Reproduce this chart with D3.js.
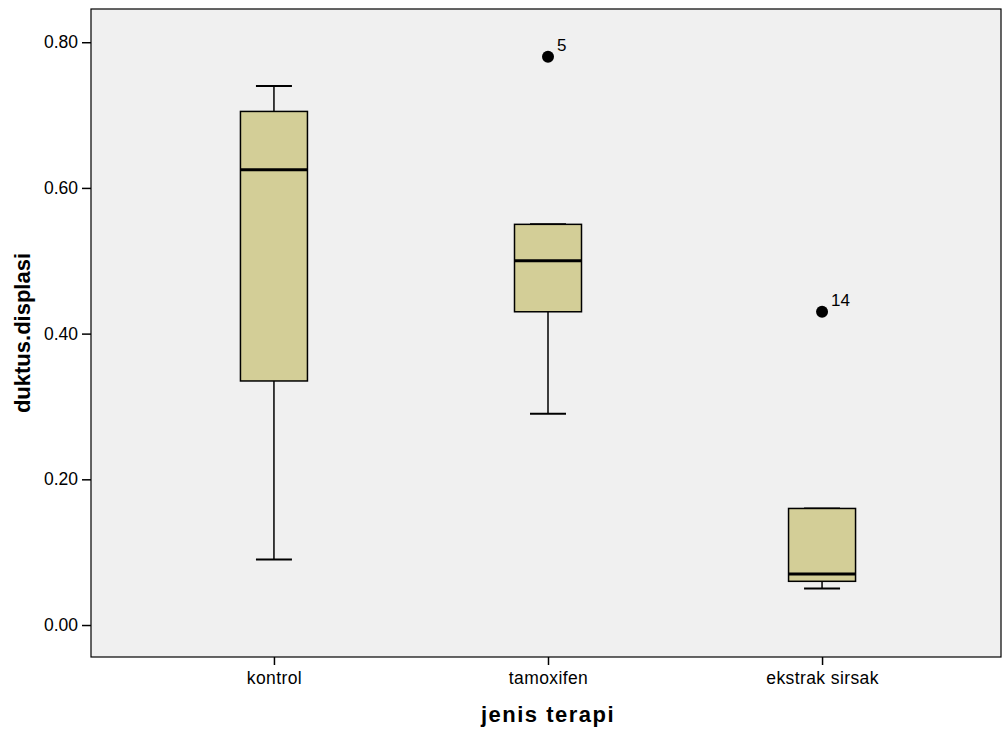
<!DOCTYPE html>
<html><head><meta charset="utf-8">
<script src="https://cdn.jsdelivr.net/npm/d3@7"></script>
<style>body{margin:0;background:#fff}svg{display:block}text{font-family:"Liberation Sans",Arial,sans-serif}</style>
</head><body>
<svg id="c" width="1002" height="736"></svg>
<script>
const categories = ["kontrol", "tamoxifen", "ekstrak sirsak"];
const whiskerLow = [0.09, 0.29, 0.05];
const q1 = [0.335, 0.43, 0.06];
const median = [0.625, 0.50, 0.07];
const q3 = [0.705, 0.55, 0.16];
const whiskerHigh = [0.74, 0.55, 0.16];
const outliers = [
  {cat: "tamoxifen", value: 0.78, label: "5"},
  {cat: "ekstrak sirsak", value: 0.43, label: "14"}
];
const yTicks = [0, 0.2, 0.4, 0.6, 0.8];

const svg = d3.select("#c");
const L = 91, R = 1001, T = 9, B = 657;
const x = d3.scalePoint().domain(categories).range([95, R]).padding(0.653);
const y = d3.scaleLinear().domain([-0.0439, 0.8456]).range([B, T]);
const FONT = '"Liberation Sans",Arial,sans-serif';

svg.append("rect").attr("x", L).attr("y", T).attr("width", R - L).attr("height", B - T)
  .attr("fill", "#f0f0f0").attr("stroke", "#000").attr("stroke-width", 1.2);

const yAxis = svg.append("g").attr("transform", `translate(${L},0)`)
  .call(d3.axisLeft(y).tickValues(yTicks).tickFormat(d3.format(".2f")).tickSize(9).tickPadding(4));
yAxis.select(".domain").remove();
yAxis.selectAll("line").attr("stroke", "#000").attr("stroke-width", 1.5);
yAxis.selectAll("text").attr("font-size", 17.5).attr("fill", "#000").style("font-family", FONT);

const xAxis = svg.append("g").attr("transform", `translate(0,${B})`)
  .call(d3.axisBottom(x).tickSize(8).tickPadding(7));
xAxis.select(".domain").remove();
xAxis.selectAll("line").attr("stroke", "#000").attr("stroke-width", 1.5);
xAxis.selectAll("text").attr("font-size", 17.5).attr("fill", "#000").style("font-family", FONT)
  .style("letter-spacing", "0.4px");

const bw = 67, cw = 36;
categories.forEach((c, i) => {
  const cx = x(c);
  const g = svg.append("g");
  g.append("line").attr("x1", cx).attr("x2", cx).attr("y1", y(q3[i])).attr("y2", y(whiskerHigh[i])).attr("stroke", "#000").attr("stroke-width", 1.5);
  g.append("line").attr("x1", cx).attr("x2", cx).attr("y1", y(q1[i])).attr("y2", y(whiskerLow[i])).attr("stroke", "#000").attr("stroke-width", 1.5);
  g.append("line").attr("x1", cx - cw / 2).attr("x2", cx + cw / 2).attr("y1", y(whiskerHigh[i])).attr("y2", y(whiskerHigh[i])).attr("stroke", "#000").attr("stroke-width", 2);
  g.append("line").attr("x1", cx - cw / 2).attr("x2", cx + cw / 2).attr("y1", y(whiskerLow[i])).attr("y2", y(whiskerLow[i])).attr("stroke", "#000").attr("stroke-width", 2);
  g.append("rect").attr("x", cx - bw / 2).attr("y", y(q3[i])).attr("width", bw).attr("height", y(q1[i]) - y(q3[i]))
    .attr("fill", "#d3ce97").attr("stroke", "#000").attr("stroke-width", 1.5);
  g.append("line").attr("x1", cx - bw / 2).attr("x2", cx + bw / 2).attr("y1", y(median[i])).attr("y2", y(median[i])).attr("stroke", "#000").attr("stroke-width", 3);
});

outliers.forEach(o => {
  const cx = x(o.cat), cy = y(o.value);
  svg.append("circle").attr("cx", cx).attr("cy", cy).attr("r", 6).attr("fill", "#000");
  svg.append("text").attr("x", cx + 9).attr("y", cy - 6).attr("font-size", 17).attr("fill", "#000").text(o.label);
});

svg.append("text").attr("x", (L + R) / 2 + 2).attr("y", 722).attr("text-anchor", "middle")
  .attr("font-size", 22).attr("font-weight", "bold").style("letter-spacing", "1.5px").text("jenis terapi");
svg.append("text").attr("transform", `translate(30,${(T + B) / 2}) rotate(-90)`).attr("text-anchor", "middle")
  .attr("font-size", 22).attr("font-weight", "bold").text("duktus.displasi");
</script>
</body></html>
